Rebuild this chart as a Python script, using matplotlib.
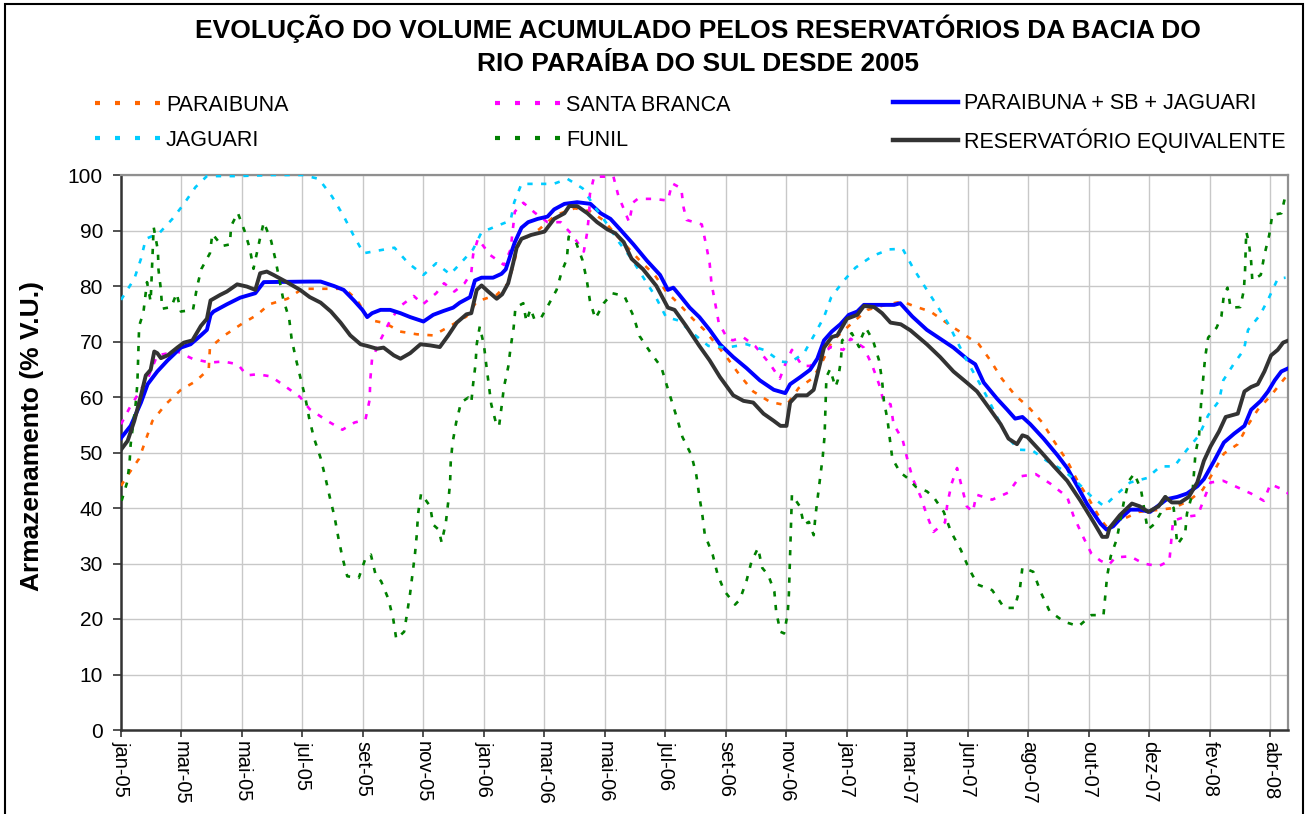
import matplotlib
matplotlib.use("Agg")
import matplotlib.pyplot as plt
from matplotlib.lines import Line2D
from matplotlib.patches import Rectangle

plt.rcParams['font.family'] = ['Liberation Sans', 'DejaVu Sans']

# ---------------- DATA ----------------
# x positions are expressed in tick intervals along the time axis (0 = jan-05)
tick_labels = ['jan-05', 'mar-05', 'mai-05', 'jul-05', 'set-05', 'nov-05',
               'jan-06', 'mar-06', 'mai-06', 'jul-06', 'set-06', 'nov-06',
               'jan-07', 'mar-07', 'jun-07', 'ago-07', 'out-07', 'dez-07',
               'fev-08', 'abr-08']

paraibuna_x = [0, 0.11, 0.30, 0.41, 0.52, 0.74, 0.99, 1.23, 1.45, 1.47, 1.71, 2.0, 2.25, 2.45, 2.75,
               3.0, 3.3, 3.7, 3.9, 4.1, 4.37, 4.61, 4.89, 5.16, 5.41, 5.71, 5.88, 6.21, 6.40, 6.50, 6.58,
               6.91, 7.19, 7.5, 7.75, 7.98, 8.2, 8.6, 8.82, 9.01, 9.23, 9.45, 9.64, 10.01, 10.23, 10.45,
               10.73, 11.0, 11.20, 11.42, 11.56, 11.75, 12.09, 12.34, 12.67, 12.92, 13.10, 13.38, 13.68,
               13.93, 14.18, 14.37, 14.56, 14.78, 15.0, 15.23, 15.43, 15.64, 15.81, 16.0, 16.19, 16.3,
               16.51, 16.82, 17.1, 17.4, 17.65, 17.88, 18.07, 18.23, 18.46, 18.62, 18.79, 19.01, 19.23, 19.3]
paraibuna_y = [44, 45.9, 48.9, 52.3, 55.7, 58.7, 61.3, 62.8, 65, 68.9, 71.1, 73.2, 74.8, 76.7, 77.7,
               79.5, 79.5, 79.5, 77.5, 73.9, 73.3, 71.8, 71.3, 71.1, 72.6, 74.5, 77.2, 78.4, 80.5, 84.3, 87.9,
               90.2, 92.8, 94, 93.5, 91.8, 89, 84.3, 82, 79, 76.7, 74.1, 72.1, 67.2, 63.9, 61,
               59.1, 58.5, 61.6, 63.3, 65.6, 70, 73.4, 75.7, 76.7, 77.2, 76.4, 75.4, 73.1,
               71.3, 69.5, 66.6, 63.3, 60.3, 58.2, 55.4, 51.9, 48.5, 44.9, 41.6, 38, 36.5,
               37.7, 39.3, 39.6, 40, 41.3, 43.3, 46.7, 49.8, 51.5, 54.8, 57.7, 60.3, 63.3, 64]

santa_branca_x = [0, 0.14, 0.44, 0.60, 0.93, 1.18, 1.47, 1.69, 1.93, 2.08, 2.26, 2.48, 2.73, 2.96, 3.12,
                  3.41, 3.66, 3.86, 4.04, 4.11, 4.12, 4.15, 4.29, 4.45, 4.62, 4.84, 4.99, 5.21, 5.34, 5.51,
                  5.68, 5.79, 5.82, 5.90, 6.10, 6.33, 6.44, 6.51, 6.65, 6.84, 7.05, 7.27, 7.46, 7.65, 7.70,
                  7.74, 7.75, 7.82, 8.14, 8.22, 8.40, 8.46, 8.54, 8.80, 9.04, 9.11, 9.26, 9.30, 9.35, 9.60,
                  9.67, 9.73, 9.76, 9.82, 9.88, 10.01, 10.11, 10.28, 10.48, 10.73, 10.89, 10.98, 11.09,
                  11.26, 11.39, 11.73, 11.94, 12.06, 12.28, 12.42, 12.53, 12.61, 12.72, 12.77, 12.92,
                  13.0, 13.09, 13.22, 13.32, 13.43, 13.62, 13.66, 13.73, 13.82, 13.90, 13.98, 14.08,
                  14.14, 14.40, 14.67, 14.86, 15.12, 15.36, 15.64, 15.74, 15.89, 16.04, 16.19, 16.33,
                  16.44, 16.68, 16.90, 17.15, 17.33, 17.36, 17.39, 17.59, 17.80, 17.89, 18.01, 18.22,
                  18.44, 18.68, 18.89, 19.0, 19.25, 19.3]
santa_branca_y = [55.1, 58, 63.3, 67.5, 68.2, 66.9, 66.2, 66.4, 65.9, 63.9, 64.1, 63.7, 61.8, 60, 57.8,
                  55.7, 54.1, 55.4, 55.9, 59.5, 63, 66.9, 70.3, 73.8, 76.4, 78.2, 76.7, 78.7, 80.5, 79,
                  80.5, 82.4, 85.6, 88.5, 85.6, 83.8, 86.6, 93.4, 95, 93.2, 91.5, 91.5, 89.2, 86.2, 89.3,
                  93.1, 96.5, 99.7, 99.7, 96.3, 91.5, 95, 95.7, 95.7, 95.4, 98.5, 97.6, 94.1, 91.9, 91.1,
                  87.5, 84.1, 80.5, 77, 73.4, 70.8, 70.2, 70.8, 69.2, 65.9, 63.3, 65.9, 68.5,
                  65.6, 65.6, 69, 68.5, 70.5, 68.9, 65.6, 62.3, 59, 58.7, 55.1, 52.3,
                  48.7, 45.2, 42, 38.7, 35.7, 37.4, 40.8, 44.4, 47.2, 43.7, 40.3, 39.3,
                  42.4, 41.5, 42.8, 45.7, 46.1, 44.4, 42, 38.7, 35.1, 31.8, 30.5, 29.8,
                  31.1, 31.3, 30, 29.5, 30.5, 34.1, 37.7, 38.4, 38.7, 41.3, 44.6, 44.9,
                  43.8, 42.6, 41.3, 44.3, 43.1, 42.5]

jaguari_x = [0, 0.22, 0.33, 0.41, 0.63, 0.85, 1.04, 1.23, 1.42, 1.69, 1.92, 2.5, 3.0, 3.27, 3.49, 3.68,
             3.84, 4.01, 4.26, 4.52, 4.75, 5.0, 5.21, 5.44, 5.63, 5.82, 5.96, 6.21, 6.44, 6.50, 6.62,
             6.83, 7.15, 7.38, 7.63, 7.82, 8.04, 8.23, 8.44, 8.63, 8.84, 9.01, 9.21, 9.45, 9.71, 10.01,
             10.34, 10.65, 10.90, 11.06, 11.29, 11.45, 11.62, 11.74, 11.95, 12.14, 12.42, 12.70, 12.92,
             13.09, 13.28, 13.48, 13.68, 13.83, 13.98, 14.16, 14.33, 14.48, 14.65, 14.84, 15.06, 15.30,
             15.59, 15.81, 16.02, 16.25, 16.44, 16.68, 16.96, 17.18, 17.41, 17.62, 17.82, 17.97, 18.15,
             18.22, 18.39, 18.56, 18.63, 18.83, 18.98, 19.12, 19.25]
jaguari_y = [77.5, 81.3, 84.9, 88.5, 89.5, 92.1, 94.8, 97.8, 99.8, 99.8, 99.8, 100, 100, 99.3, 96.1, 92.6,
             89.2, 85.9, 86.4, 86.9, 84.1, 82, 84.1, 82.1, 84.3, 86.6, 89.7, 90.8, 91.8, 95.1, 98.4,
             98.4, 98.4, 99.3, 97.6, 94.4, 91.1, 87.9, 84.9, 81.6, 78, 74.4, 73.8, 71.5, 69.2, 68.9,
             69.5, 68.4, 66.4, 66.2, 67.9, 71, 74.4, 78, 81, 83.3, 85.4, 86.6, 86.7,
             83.3, 80, 76.6, 73.1, 69.8, 66.6, 63.1, 59.7, 56.4, 52.8, 50.5, 50.4, 48.5,
             46.7, 44.6, 42.3, 40.3, 42.3, 44.6, 45.4, 47.5, 47.5, 50.5, 53.1, 56.7, 59.3,
             63, 65.9, 68.5, 72.1, 74.8, 78, 81.3, 81.5]

funil_x = [0.01, 0.10, 0.14, 0.16, 0.24, 0.27, 0.29, 0.30, 0.37, 0.43, 0.49, 0.50, 0.54, 0.61, 0.62, 0.66,
           0.68, 0.83, 0.92, 0.99, 1.19, 1.26, 1.33, 1.47, 1.51, 1.67, 1.80, 1.82, 1.93, 2.04, 2.13, 2.19,
           2.29, 2.36, 2.48, 2.55, 2.68, 2.78, 2.82, 2.89, 2.97, 3.05, 3.11, 3.19, 3.30, 3.38, 3.45, 3.53,
           3.59, 3.66, 3.74, 3.93, 4.04, 4.13, 4.21, 4.30, 4.42, 4.50, 4.55, 4.68, 4.73, 4.78, 4.82, 4.86,
           4.89, 4.91, 4.96, 5.11, 5.16, 5.25, 5.30, 5.37, 5.41, 5.44, 5.45, 5.48, 5.54, 5.62, 5.74, 5.79,
           5.82, 5.86, 5.88, 5.93, 6.00, 6.04, 6.08, 6.12, 6.21, 6.25, 6.29, 6.33, 6.40, 6.44, 6.49, 6.52,
           6.65, 6.70, 6.77, 6.83, 6.93, 7.07, 7.20, 7.28, 7.37, 7.40, 7.52, 7.63, 7.70, 7.75, 7.84, 7.98,
           8.12, 8.32, 8.47, 8.57, 8.76, 8.93, 9.03, 9.11, 9.19, 9.28, 9.43, 9.51, 9.56, 9.61, 9.65, 9.78,
           9.86, 9.97, 10.15, 10.23, 10.34, 10.42, 10.53, 10.60, 10.70, 10.80, 10.83, 10.90, 10.96, 11.02,
           11.04, 11.05, 11.06, 11.07, 11.08, 11.09, 11.22, 11.29, 11.37, 11.45, 11.48, 11.52, 11.56,
           11.60, 11.63, 11.64, 11.65, 11.66, 11.72, 11.81, 11.85, 11.90, 11.92, 12.08, 12.20, 12.24,
           12.31, 12.43, 12.53, 12.58, 12.61, 12.67, 12.71, 12.75, 12.88, 13.0, 13.14, 13.32, 13.43,
           13.60, 13.72, 13.88, 14.02, 14.16, 14.40, 14.60, 14.77, 14.86, 14.90, 15.08, 15.20, 15.35,
           15.59, 15.83, 16.04, 16.24, 16.27, 16.30, 16.36, 16.46, 16.58, 16.66, 16.75, 16.86, 16.97,
           17.07, 17.18, 17.23, 17.40, 17.46, 17.59, 17.62, 17.71, 17.76, 17.82, 17.84, 17.86, 17.89,
           17.92, 17.97, 18.11, 18.19, 18.23, 18.29, 18.34, 18.50, 18.56, 18.58, 18.60, 18.64, 18.68,
           18.70, 18.84, 18.90, 18.98, 19.03, 19.18, 19.25, 19.3]
funil_y = [41.3, 44.6, 47.9, 51.5, 58.5, 62.3, 69.2, 72.8, 75.2, 80.7, 77.2, 79.9, 90.6, 86.4, 82.9, 79.3,
           75.9, 76.2, 78.7, 75.4, 75.7, 80, 83.1, 85.9, 89.4, 87.2, 87.5, 90.8, 93.2, 90, 86.7, 83.1,
           88.2, 91.5, 88.2, 84.9, 77.7, 74.1, 70.5, 66.9, 63.3, 59.7, 56.2, 52.6, 49, 45.4, 42, 38.4,
           34.8, 31.1, 27.7, 27.4, 30.9, 31.6, 27.9, 26.8, 23.6, 20, 16.4, 17.7, 21.1, 24.7, 28.3, 31.8,
           35.3, 38.9, 42.6, 40.3, 37, 36.1, 33.8, 37.4, 41.2, 44.6, 48.2, 51.7, 55.4, 59, 59.9, 59,
           62.3, 65.9, 69.5, 72.7, 69.3, 65.6, 62.2, 58.7, 54.8, 54.8, 58.2, 61.8, 65.4, 68.9, 72.5, 76.1,
           76.9, 73.6, 75.9, 74.1, 74, 76.7, 79.3, 82.4, 84.9, 88.9, 87.9, 84.6, 81, 77.4, 74.1, 76.9,
           78.7, 78.2, 74.6, 71, 67.9, 65.4, 61.8, 59, 56.2, 52.8, 49.5, 45.9, 42.1, 38.7, 35.2, 31.6,
           28.1, 25.1, 22.6, 23.5, 26.9, 30.3, 32.8, 29.2, 27.9, 24.9, 21.3, 17.7, 17.4, 21,
           24.5, 28.1, 31.6, 35.2, 38.8, 42.4, 40.3, 37, 37.5, 35.1, 38.7, 42.2, 45.8,
           49.3, 53, 56.4, 60, 63.6, 65, 61.8, 63.1, 66.6, 70.2, 71.5, 69, 70.7,
           72.5, 70.2, 66.6, 63, 59.3, 55.9, 52.3, 48.9, 46.4, 45.4, 43.8, 43, 42,
           39.3, 35.7, 32.5, 29, 26.2, 25.2, 22, 22, 25.6, 29.3, 28.5, 24.9, 21.4,
           19.5, 18.7, 20.7, 20.7, 24.1, 27.7, 31.3, 34.4, 41.3, 44.9, 46.2, 43.3, 36.1,
           37, 39, 42.6, 40, 33.4, 35.4, 39, 42.6, 49.8, 53.1, 56.4, 60, 63.6,
           67.1, 70.7, 72.5, 74.6, 78.4, 79.7, 76.1, 76.2, 79.2, 82.8, 89.8, 88, 84.5,
           81, 82, 85.6, 89.2, 92.8, 93.1, 96.4, 96.6]

psj_x = [0, 0.16, 0.33, 0.44, 0.6, 0.77, 0.99, 1.15, 1.32, 1.42, 1.48, 1.53, 1.75, 1.97, 2.22, 2.36,
         3.12, 3.30, 3.52, 3.68, 3.85, 3.99, 4.07, 4.15, 4.29, 4.45, 4.62, 4.78, 5.0, 5.16, 5.33, 5.49,
         5.60, 5.77, 5.85, 5.96, 6.15, 6.29, 6.36, 6.45, 6.51, 6.62, 6.73, 6.89, 7.05, 7.16, 7.33,
         7.54, 7.76, 7.93, 8.09, 8.25, 8.47, 8.69, 8.91, 9.04, 9.13, 9.23, 9.40, 9.56, 9.73, 9.90,
         10.12, 10.34, 10.56, 10.79, 10.98, 11.06, 11.23, 11.39, 11.51, 11.62, 11.75, 11.89, 12.03,
         12.17, 12.28, 12.50, 12.78, 12.88, 13.08, 13.32, 13.54, 13.76, 13.98, 14.12, 14.26, 14.48,
         14.65, 14.78, 14.90, 15.03, 15.25, 15.48, 15.64, 15.81, 15.97, 16.19, 16.29, 16.40, 16.51,
         16.68, 16.84, 17.01, 17.18, 17.29, 17.46, 17.62, 17.79, 17.90, 18.07, 18.23, 18.40, 18.57,
         18.68, 18.84, 18.96, 19.07, 19.18, 19.30]
psj_y = [52.6, 54.8, 59, 62.3, 64.6, 66.6, 68.9, 69.5, 71.1, 72.1, 74.8, 75.4, 76.7, 77.9, 78.7, 80.7,
         80.8, 80.8, 80, 79.3, 77.4, 75.7, 74.4, 75.1, 75.7, 75.7, 75.1, 74.4, 73.6, 74.8, 75.5, 76.1,
         77, 78, 81, 81.5, 81.5, 82.2, 83, 86, 87.9, 90.5, 91.5, 92.1, 92.5, 93.8, 94.8,
         95.1, 94.8, 93.1, 92.1, 90.2, 87.5, 84.6, 82, 79.3, 79.7, 78.4, 76.1, 74.4, 72.1, 69.5,
         67.2, 65.2, 63, 61.3, 60.7, 62.3, 63.6, 64.9, 66.9, 70.2, 71.8, 73.1, 74.8,
         75.4, 76.6, 76.6, 76.6, 76.9, 74.5, 72.1, 70.5, 68.9, 66.9, 65.9, 62.6, 59.7,
         57.7, 56.1, 56.4, 55.1, 52.5, 49.5, 47.2, 43.9, 40.7, 37.2, 36.1, 36.7, 38,
         39.7, 39.7, 39.3, 40.7, 41.6, 42, 42.6, 43.9, 45.2, 48.5, 51.8, 53.4, 54.8,
         57.7, 59.3, 61, 63, 64.6, 65.2]

equiv_x = [0, 0.11, 0.22, 0.33, 0.41, 0.49, 0.55, 0.60, 0.66, 0.77, 0.93, 1.04, 1.18, 1.32, 1.42, 1.48,
           1.64, 1.75, 1.92, 2.08, 2.22, 2.30, 2.41, 2.52, 2.74, 2.96, 3.12, 3.30, 3.47, 3.63, 3.79,
           3.96, 4.07, 4.23, 4.34, 4.51, 4.62, 4.78, 4.95, 5.11, 5.27, 5.41, 5.55, 5.71, 5.79, 5.88,
           5.96, 6.07, 6.21, 6.30, 6.40, 6.48, 6.54, 6.62, 6.78, 7.0, 7.16, 7.33, 7.41, 7.54, 7.71,
           7.87, 8.04, 8.17, 8.31, 8.44, 8.63, 8.85, 9.04, 9.15, 9.34, 9.56, 9.73, 9.90, 10.12, 10.29,
           10.45, 10.62, 10.79, 10.90, 11.0, 11.06, 11.17, 11.34, 11.45, 11.53, 11.62, 11.75, 11.84,
           12.0, 12.17, 12.28, 12.45, 12.58, 12.72, 12.89, 13.05, 13.32, 13.54, 13.76, 13.98, 14.15,
           14.37, 14.54, 14.67, 14.81, 14.90, 14.98, 15.20, 15.42, 15.64, 15.86, 16.08, 16.22, 16.30,
           16.34, 16.51, 16.71, 16.84, 16.98, 17.15, 17.26, 17.37, 17.51, 17.65, 17.79, 17.90, 18.01,
           18.15, 18.26, 18.46, 18.57, 18.68, 18.79, 18.90, 19.01, 19.12, 19.21, 19.30]
equiv_y = [50.5, 52.1, 55.7, 60.3, 63.9, 64.9, 68.2, 67.9, 67, 67.5, 68.9, 69.8, 70.2, 72.8, 74.1, 77.4,
           78.4, 79, 80.3, 79.9, 79.3, 82.3, 82.6, 82, 80.7, 79.3, 78, 77, 75.4, 73.4, 71.1,
           69.5, 69.2, 68.7, 68.9, 67.5, 66.9, 67.9, 69.5, 69.3, 69, 71.1, 73.4, 74.9, 75.1, 79.3,
           80.1, 79, 77.7, 78.5, 80.5, 84, 86.9, 88.5, 89.2, 89.8, 92.1, 93.1, 94.4, 94.4, 93.1,
           91.5, 90.2, 89.5, 87.9, 84.9, 83, 80, 76.1, 75.7, 72.8, 69.2, 66.6, 63.6, 60.3, 59.3,
           59, 57, 55.7, 54.8, 54.8, 59, 60.3, 60.3, 61.3, 64.9, 68.9, 70.8, 71.1,
           74.1, 74.8, 76.4, 76.2, 75.1, 73.4, 73.1, 72, 69.5, 67.2, 64.6, 62.6, 61,
           57.7, 55.1, 52.5, 51.5, 53.1, 52.8, 50.2, 47.5, 44.9, 41.3, 37.4, 34.8, 34.8,
           36.4, 38.7, 40.8, 40.3, 39.3, 40.3, 42, 41, 41, 42, 44.6, 48.5, 51.1,
           53.8, 56.4, 57, 61, 61.8, 62.3, 64.6, 67.5, 68.5, 69.8, 70.2]

series_names = ['PARAIBUNA', 'SANTA BRANCA', 'PARAIBUNA + SB + JAGUARI',
                'JAGUARI', 'FUNIL', 'RESERVATÓRIO EQUIVALENTE']

# ---------------- STYLE ----------------
c_par, c_sb, c_jag, c_fun, c_psj, c_eq = '#FF6600', '#FF00FF', '#00CCFF', '#008000', '#0000FF', '#333333'
dash_lw = 1.9
dash_style = (0, (2.0, 3.2))
solid_lw = 2.8

W, H = 1311, 814
fig = plt.figure(figsize=(W / 100, H / 100), dpi=100)
ax = fig.add_axes([121 / W, 1 - 730 / H, (1288 - 121) / W, (730 - 175) / H])

ax.plot(paraibuna_x, paraibuna_y, color=c_par, lw=dash_lw, ls=dash_style, zorder=3)
ax.plot(santa_branca_x, santa_branca_y, color=c_sb, lw=dash_lw, ls=dash_style, zorder=3)
ax.plot(psj_x, psj_y, color=c_psj, lw=solid_lw, solid_joinstyle='round', zorder=4)
ax.plot(jaguari_x, jaguari_y, color=c_jag, lw=dash_lw, ls=dash_style, zorder=5)
ax.plot(funil_x, funil_y, color=c_fun, lw=dash_lw, ls=dash_style, zorder=5)
ax.plot(equiv_x, equiv_y, color=c_eq, lw=solid_lw, solid_joinstyle='round', zorder=6)

ax.set_xlim(0, 19.29)
ax.set_ylim(0, 100)
ax.set_xticks(range(len(tick_labels)))
ax.set_xticklabels(tick_labels, rotation=-90, fontsize=14.5)
ax.set_yticks(range(0, 101, 10))
ax.tick_params(axis='y', labelsize=15, length=6, width=1.2, direction='out', pad=7, color='#333333')
ax.tick_params(axis='x', length=5, width=1.2, direction='out', pad=3, color='#333333')
ax.grid(True, color='#C8C8C8', lw=1.0)
ax.set_axisbelow(True)
for s in ['top', 'right']:
    ax.spines[s].set_color('#909090')
    ax.spines[s].set_linewidth(1.6)
for s in ['left', 'bottom']:
    ax.spines[s].set_color('#333333')
    ax.spines[s].set_linewidth(1.8)

ax.set_ylabel('Armazenamento (% V.U.)', fontsize=19, fontweight='bold')
ax.yaxis.set_label_coords(-0.066, 0.53)

fig.text(698 / W, 1 - 29 / H, 'EVOLUÇÃO DO VOLUME ACUMULADO PELOS RESERVATÓRIOS DA BACIA DO',
         ha='center', va='center', fontsize=19, fontweight='bold')
fig.text(698 / W, 1 - 64 / H, 'RIO PARAÍBA DO SUL DESDE 2005',
         ha='center', va='center', fontsize=19, fontweight='bold')

# legend (three columns, two rows)
def dh(c):
    return Line2D([], [], color=c, lw=3.0, ls=(0, (1.2, 3.6)))

def sh(c):
    return Line2D([], [], color=c, lw=3.2)

cols = [([dh(c_par), dh(c_jag)], [series_names[0], series_names[3]], 95),
        ([dh(c_sb), dh(c_fun)], [series_names[1], series_names[4]], 495),
        ([sh(c_psj), sh(c_eq)], [series_names[2], series_names[5]], 893)]
for hs, ls_, x0 in cols:
    fig.legend(hs, ls_, loc='center left', bbox_to_anchor=(x0 / W, 1 - 123 / H),
               frameon=False, fontsize=15.5, handlelength=3.0, handletextpad=0.3,
               labelspacing=0.65, borderpad=0, borderaxespad=0)

fig.patches.append(Rectangle((5 / W, -0.01), (1303 - 5) / W, 1.01 - 4 / H, transform=fig.transFigure,
                             fill=False, edgecolor='black', lw=1.5))

fig.savefig('out.png', dpi=100)
